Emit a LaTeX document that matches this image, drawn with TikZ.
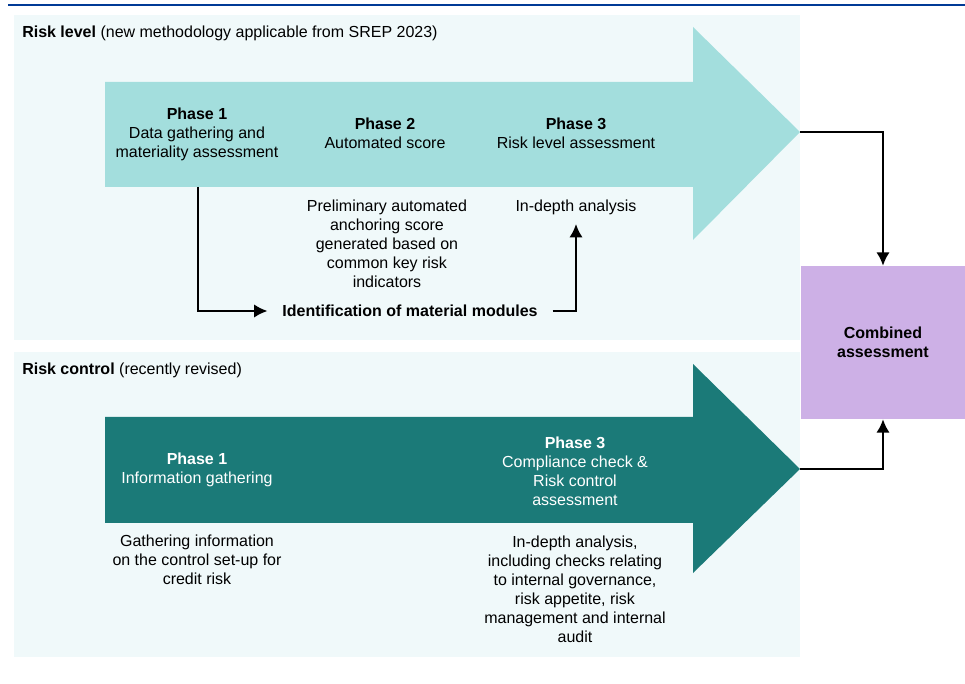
\documentclass[tikz,border=0pt]{standalone}
\usepackage{fontspec}
\setmainfont{Liberation Sans}
\usetikzlibrary{arrows.meta,positioning,calc}

\definecolor{ecbblue}{HTML}{003A96}
\definecolor{panelbg}{HTML}{F0F9FA}
\definecolor{levelteal}{HTML}{A3DEDD}
\definecolor{controlteal}{HTML}{1B7A78}
\definecolor{combinedlilac}{HTML}{CDB0E6}

\tikzset{
  txt/.style={font=\fontsize{12}{14.2}\selectfont, align=center, inner sep=0pt},
  wtxt/.style={txt, text=white},
  heading/.style={font=\fontsize{12}{14.2}\selectfont, anchor=west, inner sep=0pt},
  conn/.style={line width=1.5pt, -{Latex[length=10pt,width=10pt]}},
}

\begin{document}
\begin{tikzpicture}[x=0.75pt,y=-0.75pt]
\useasboundingbox (0,0) rectangle (965,684);
\draw[ecbblue,line width=1.5pt] (8,5.5) -- (965,5.5);
\fill[panelbg] (14,15) rectangle (800,340);
\fill[panelbg] (14,352) rectangle (800,657);

% risk level
\fill[levelteal] (105,82) -- (693,82) -- (693,27) -- (800,132) -- (693,240)
  -- (693,187) -- (105,187) -- cycle;
\coordinate (lvltip) at (800,132);
\coordinate (lvlfoot) at (198,187);
\node[heading] (lvlhead) at (22,33) {\textbf{Risk level} (new methodology applicable from SREP 2023)};
\node[txt] (lvlp1) at (197,134) {\textbf{Phase 1}\\Data gathering and\\materiality assessment};
\node[txt] (lvlp2) at (385,133) {\textbf{Phase 2}\\Automated score};
\node[txt] (lvlp3) at (576,133) {\textbf{Phase 3}\\Risk level assessment};
\node[txt] (prelim) at (387,244) {Preliminary automated\\anchoring score\\generated based on\\common key risk\\indicators};
\node[txt] (indepth) at (576,207) {In-depth analysis};
\node[txt, inner xsep=11pt] (ident) at (410,311) {\textbf{Identification of material modules}};

% risk control
\fill[controlteal] (105,417) -- (693,417) -- (693,364) -- (800,469) -- (693,573)
  -- (693,523) -- (105,523) -- cycle;
\coordinate (ctltip) at (800,469);
\node[heading] (ctlhead) at (22,370) {\textbf{Risk control} (recently revised)};
\node[wtxt] (ctlp1) at (197,470) {\textbf{Phase 1}\\Information gathering};
\node[wtxt] (ctlp3) at (575,471) {\textbf{Phase 3}\\Compliance check \&\\Risk control\\assessment};
\node[txt] (gather) at (197,560) {Gathering information\\on the control set-up for\\credit risk};
\node[txt] (checks) at (575,589) {In-depth analysis,\\including checks relating\\to internal governance,\\risk appetite, risk\\management and internal\\audit};

% combined
\node[fill=combinedlilac, minimum width=123pt, minimum height=114.75pt,
  txt] (comb) at (883,342.5) {\textbf{Combined}\\\textbf{assessment}};

\draw[conn] (lvlfoot) |- (ident.west);
\draw[conn] (ident.east) -| ([yshift=-7pt]indepth.south);
\draw[conn] (lvltip) -| (comb.north);
\draw[conn] (ctltip) -| (comb.south);
\end{tikzpicture}
\end{document}
